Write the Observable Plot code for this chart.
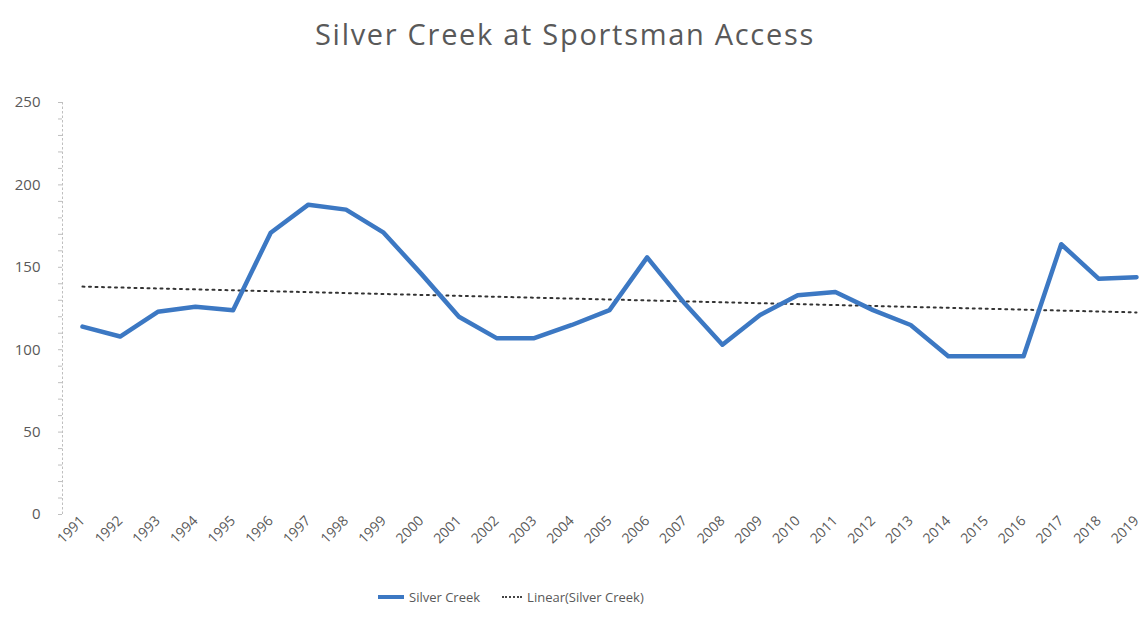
<!DOCTYPE html>
<html>
<head>
<meta charset="utf-8">
<script src="https://cdn.jsdelivr.net/npm/d3@7"></script>
<script src="https://cdn.jsdelivr.net/npm/@observablehq/plot@0.6"></script>
<style>
  html, body { margin: 0; padding: 0; background: #fff; }
  body { width: 1144px; height: 635px; overflow: hidden; font-family: "Open Sans", sans-serif; color: #595959; }
  #title { height: 70px; text-align: center; font-size: 29px; letter-spacing: 1.7px; line-height: 68px; padding-right: 14px; box-sizing: border-box; }
  #legend { display: flex; align-items: center; height: 50px; padding-left: 378px; font-size: 13px; color: #595959; margin-top: -13px; }
  .sw { display: inline-block; width: 26px; margin-right: 5px; }
  .item { display: flex; align-items: center; margin-right: 22px; }
</style>
</head>
<body>
<div id="title">Silver Creek at Sportsman Access</div>
<div id="chart"></div>
<div id="legend">
  <div class="item"><span class="sw" style="border-top: 4px solid #3c78c3;"></span>Silver Creek</div>
  <div class="item"><span class="sw" style="border-top: 2px dotted #444; width: 20px;"></span>Linear(Silver Creek)</div>
</div>
<script>
const years = [1991,1992,1993,1994,1995,1996,1997,1998,1999,2000,2001,2002,2003,2004,2005,2006,2007,2008,2009,2010,2011,2012,2013,2014,2015,2016,2017,2018,2019];
const values = [114,108,123,126,124,171,188,185,171,146,120,107,107,115,124,156,128,103,121,133,135,124,115,96,96,96,164,143,144];
const yTicks = [0,50,100,150,200,250];
const seriesName = "Silver Creek";

const data = years.map((yr, i) => ({year: yr, value: values[i]}));

const chart = Plot.plot({
  width: 1144,
  height: 515,
  marginTop: 32,
  marginBottom: 71,
  marginLeft: 62,
  marginRight: 8,
  insetLeft: 20,
  style: {fontFamily: "Open Sans, sans-serif", fontSize: "13px", color: "#595959", background: "#fff"},
  x: {domain: [1991, 2019]},
  y: {domain: [0, 250]},
  marks: [
    Plot.frame({anchor: "left", stroke: "#bfbfbf", strokeDasharray: "1.5,3"}),
    Plot.axisY(d3.range(0, 251, 10), {tickSize: 4, stroke: "#bfbfbf", tickFormat: d => yTicks.includes(d) ? d : "", fontSize: 15, tickPadding: 18, fill: "#595959", label: null}),
    Plot.axisX(years, {tickRotate: -45, tickSize: 0, tickPadding: 4, tickFormat: d => String(d), fontSize: 14, letterSpacing: "1px", fill: "#595959", label: null}),
    Plot.linearRegressionY(data, {x: "year", y: "value", ci: 0, stroke: "#333", strokeWidth: 2, strokeDasharray: "2,4.5"}),
    Plot.line(data, {x: "year", y: "value", stroke: "#3c78c3", strokeWidth: 4.5, strokeLinejoin: "round"})
  ]
});
document.getElementById("chart").appendChild(chart);
</script>
</body>
</html>
